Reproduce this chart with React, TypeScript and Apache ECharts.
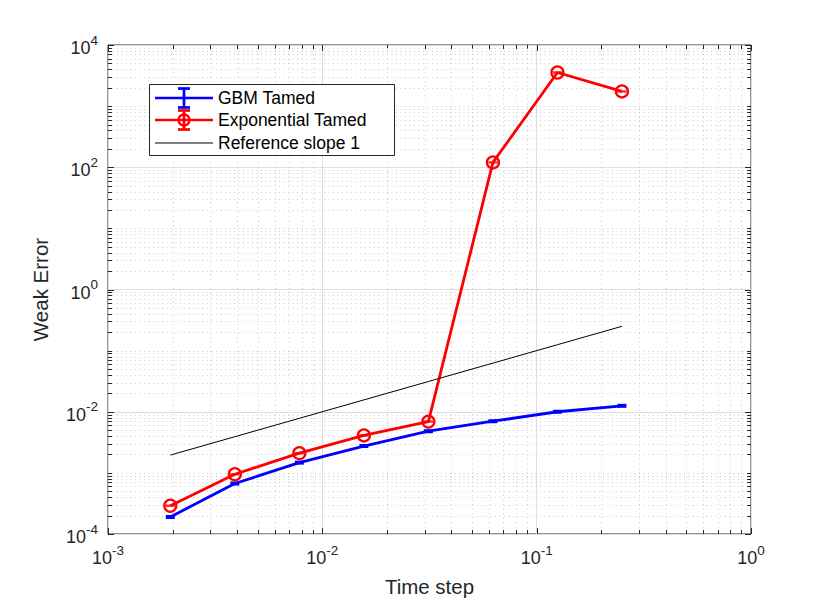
import React, { useEffect, useRef } from "react";
import * as echarts from "echarts";

const timeSteps = [0.001953125, 0.00390625, 0.0078125, 0.015625, 0.03125, 0.0625, 0.125, 0.25];
const gbmTamed = [1.9e-4, 6.7e-4, 1.47e-3, 2.75e-3, 4.8e-3, 7.0e-3, 1.0e-2, 1.25e-2];
const expTamed = [2.9e-4, 9.5e-4, 2.1e-3, 4.1e-3, 6.9e-3, 120, 3550, 1740];
const refSlope = [0.001953125, 0.00390625, 0.0078125, 0.015625, 0.03125, 0.0625, 0.125, 0.25];
const seriesNames = ["GBM Tamed", "Exponential Tamed", "Reference slope 1"];
const xTitle = "Time step";
const yTitle = "Weak Error";
const xDecades = [-3, -2, -1, 0];
const yDecades = [-4, -3, -2, -1, 0, 1, 2, 3, 4];
const yLabelDecades = [-4, -2, 0, 2, 4];
const minorFactors = [2, 3, 4, 5, 6, 7, 8, 9];

const FONT = "'Liberation Sans', Arial, Helvetica, sans-serif";
const INK = "#262626";
const BLUE = "#0000ff";
const RED = "#ff0000";

const lg = (v: number) => Math.log10(v);

const tickRich = {
  a: { fontSize: 18, fontFamily: FONT, color: INK, lineHeight: 24, verticalAlign: "bottom" },
  b: { fontSize: 13.5, fontFamily: FONT, color: INK, lineHeight: 13, verticalAlign: "top" },
};

export default function App() {
  const ref = useRef<HTMLDivElement>(null);
  useEffect(() => {
    document.body.style.margin = "0";
    const chart = echarts.init(ref.current!, undefined, { renderer: "svg" });

    const minorX: number[] = [];
    xDecades.slice(0, -1).forEach((d) => minorFactors.forEach((k) => minorX.push(d + lg(k))));
    const minorY: number[] = [];
    yDecades.slice(0, -1).forEach((d) => minorFactors.forEach((k) => minorY.push(d + lg(k))));
    yDecades.forEach((d) => {
      if (!yLabelDecades.includes(d)) minorY.push(d);
    });

    const gridItem = (params: any, api: any) => {
      const children: any[] = [];
      const [xl, yb] = api.coord([-3, -4]);
      const [xr, yt] = api.coord([0, 4]);
      const dot = { stroke: "#cccccc", lineWidth: 1, lineDash: [1, 3.5] };
      const tk = { stroke: INK, lineWidth: 1 };
      minorX.forEach((v) => {
        const x = Math.round(api.coord([v, 0])[0]) + 0.5;
        children.push({ type: "line", shape: { x1: x, y1: yt, x2: x, y2: yb }, style: dot });
        children.push({ type: "line", shape: { x1: x, y1: yb, x2: x, y2: yb - 4 }, style: tk });
        children.push({ type: "line", shape: { x1: x, y1: yt, x2: x, y2: yt + 4 }, style: tk });
      });
      minorY.forEach((v) => {
        const y = Math.round(api.coord([-3, v])[1]) + 0.5;
        children.push({ type: "line", shape: { x1: xl, y1: y, x2: xr, y2: y }, style: dot });
        children.push({ type: "line", shape: { x1: xl, y1: y, x2: xl + 4, y2: y }, style: tk });
        children.push({ type: "line", shape: { x1: xr, y1: y, x2: xr - 4, y2: y }, style: tk });
      });
      xDecades.forEach((v) => {
        const x = Math.round(api.coord([v, 0])[0]) + 0.5;
        children.push({ type: "line", shape: { x1: x, y1: yb, x2: x, y2: yb - 6 }, style: tk });
        children.push({ type: "line", shape: { x1: x, y1: yt, x2: x, y2: yt + 6 }, style: tk });
      });
      yLabelDecades.forEach((v) => {
        const y = Math.round(api.coord([-3, v])[1]) + 0.5;
        children.push({ type: "line", shape: { x1: xl, y1: y, x2: xl + 6, y2: y }, style: tk });
        children.push({ type: "line", shape: { x1: xr, y1: y, x2: xr - 6, y2: y }, style: tk });
      });
      return { type: "group", children };
    };

    const legendX = 149;
    const legendY = 84;
    const rowY = [98, 120, 143];
    const sampleX1 = 155;
    const sampleX2 = 213;
    const iconX = 184;
    const graphic: any[] = [
      {
        type: "rect",
        shape: { x: legendX + 0.5, y: legendY + 0.5, width: 245, height: 71 },
        style: { fill: "#ffffff", stroke: INK, lineWidth: 1 },
        z: 100,
      },
    ];
    const addErrIcon = (y: number, color: string, circle: boolean) => {
      const st = { stroke: color, lineWidth: 2.7 };
      graphic.push({ type: "line", shape: { x1: sampleX1, y1: y, x2: sampleX2, y2: y }, style: st, z: 101 });
      graphic.push({ type: "line", shape: { x1: iconX, y1: y - 9.5, x2: iconX, y2: y + 9.5 }, style: st, z: 101 });
      graphic.push({ type: "line", shape: { x1: iconX - 6, y1: y - 9.5, x2: iconX + 6, y2: y - 9.5 }, style: st, z: 101 });
      graphic.push({ type: "line", shape: { x1: iconX - 6, y1: y + 9.5, x2: iconX + 6, y2: y + 9.5 }, style: st, z: 101 });
      if (circle) {
        graphic.push({ type: "circle", shape: { cx: iconX, cy: y, r: 5.5 }, style: { fill: "none", stroke: color, lineWidth: 2.2 }, z: 101 });
      }
    };
    addErrIcon(rowY[0], BLUE, false);
    addErrIcon(rowY[1], RED, true);
    graphic.push({ type: "line", shape: { x1: sampleX1, y1: rowY[2], x2: sampleX2, y2: rowY[2] }, style: { stroke: "#000", lineWidth: 1 }, z: 101 });
    seriesNames.forEach((n, i) => {
      graphic.push({
        type: "text",
        x: 218,
        y: rowY[i],
        style: { text: n, fontSize: 17.5, fontFamily: FONT, fill: "#000", verticalAlign: "middle", align: "left" },
        z: 102,
      });
    });

    const toPts = (ys: number[]) => timeSteps.map((x, i) => [lg(x), lg(ys[i])]);

    chart.setOption({
      animation: false,
      backgroundColor: "#ffffff",
      textStyle: { fontFamily: FONT },
      grid: {
        left: 108,
        right: 79,
        top: 45,
        bottom: 65,
        show: true,
        borderColor: INK,
        borderWidth: 1,
        backgroundColor: "#ffffff",
      },
      xAxis: {
        type: "value",
        min: -3,
        max: 0,
        interval: 1,
        axisLine: { show: false },
        axisTick: { show: false },
        splitLine: { show: true, lineStyle: { color: "#dddddd", width: 1 } },
        axisLabel: {
          margin: 9,
          formatter: (v: number) => `{a|10}{b|${v}}`,
          rich: tickRich,
        },
        name: xTitle,
        nameLocation: "middle",
        nameGap: 42,
        nameTextStyle: { fontSize: 20.5, color: INK, fontFamily: FONT },
      },
      yAxis: {
        type: "value",
        min: -4,
        max: 4,
        interval: 2,
        axisLine: { show: false },
        axisTick: { show: false },
        splitLine: { show: true, lineStyle: { color: "#dddddd", width: 1 } },
        axisLabel: {
          margin: 10,
          formatter: (v: number) => `{a|10}{b|${v}}`,
          rich: tickRich,
        },
        name: yTitle,
        nameLocation: "middle",
        nameGap: 57,
        nameTextStyle: { fontSize: 20.5, color: INK, fontFamily: FONT },
      },
      graphic,
      series: [
        {
          type: "custom",
          renderItem: gridItem,
          data: [[-1.5, 0]],
          clip: false,
          silent: true,
          z: 1,
        },
        {
          name: seriesNames[0],
          type: "line",
          data: toPts(gbmTamed),
          lineStyle: { color: BLUE, width: 2.8 },
          itemStyle: { color: BLUE },
          symbol: "rect",
          symbolSize: [9, 4],
          showSymbol: true,
          z: 3,
        },
        {
          name: seriesNames[1],
          type: "line",
          data: toPts(expTamed),
          lineStyle: { color: RED, width: 2.8 },
          itemStyle: { color: "rgba(0,0,0,0)", borderColor: RED, borderWidth: 2.3 },
          symbol: "circle",
          symbolSize: 12,
          showSymbol: true,
          z: 4,
        },
        {
          name: seriesNames[1] + " bars",
          type: "scatter",
          data: toPts(expTamed),
          itemStyle: { color: RED },
          symbol: "rect",
          symbolSize: [9, 2.5],
          z: 5,
        },
        {
          name: seriesNames[2],
          type: "line",
          data: toPts(refSlope),
          lineStyle: { color: "#000000", width: 1 },
          showSymbol: false,
          symbol: "none",
          z: 6,
        },
      ],
    });
    return () => chart.dispose();
  }, []);
  return <div ref={ref} style={{ width: 830, height: 602 }} />;
}
